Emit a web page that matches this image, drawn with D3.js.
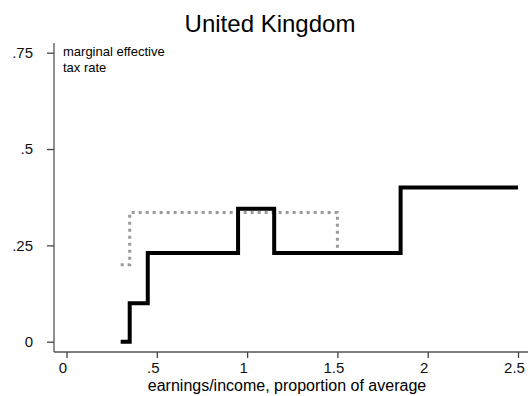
<!DOCTYPE html>
<html>
<head>
<meta charset="utf-8">
<script src="https://cdn.jsdelivr.net/npm/d3@7"></script>
<style>
  html, body { margin: 0; padding: 0; background: #fff; }
  text { font-family: "Liberation Sans", Arial, Helvetica, sans-serif; }
</style>
</head>
<body>
<svg id="chart" width="531" height="396"></svg>
<script>
// ---- data ----
const title = "United Kingdom";
const xAxisTitle = "earnings/income, proportion of average";
const yAxisNote = ["marginal effective", "tax rate"];
const xTicks = [0, 0.5, 1, 1.5, 2, 2.5];
const xTickLabels = ["0", ".5", "1", "1.5", "2", "2.5"];
const yTicks = [0, 0.25, 0.5, 0.75];
const yTickLabels = ["0", ".25", ".5", ".75"];
// solid black step series (breakpoints; value holds until next x)
const blackX = [0.3, 0.35, 0.45, 0.95, 1.15, 1.85, 2.5];
const blackY = [0, 0.1, 0.23, 0.345, 0.23, 0.40, 0.40];
// dotted grey step series
const greyX = [0.3, 0.35, 1.5, 1.85, 2.5];
const greyY = [0.2, 0.335, 0.23, 0.40, 0.40];

// ---- layout ----
const svg = d3.select("#chart");
const x = d3.scaleLinear().domain([0, 2.5]).range([66.5, 518]);
const y = d3.scaleLinear().domain([0, 0.75]).range([341.7, 52.7]);
const axisLeftX = 54, axisBottomY = 352;
const xDom = [x.invert(axisLeftX), x.invert(528)];
const yDom = [y.invert(axisBottomY), y.invert(43)];

// title
svg.append("text").attr("x", 270).attr("y", 32)
  .attr("text-anchor", "middle").attr("font-size", 24).attr("fill", "#000")
  .text(title);

// y axis
const yAxis = d3.axisLeft(y).tickValues(yTicks)
  .tickFormat((d, i) => yTickLabels[i]).tickSize(7).tickPadding(14);
const gy = svg.append("g").attr("transform", `translate(${axisLeftX},0)`).call(yAxis);
gy.select(".domain").attr("d", `M0,${y(yDom[1])}V${y(yDom[0])}`);

// x axis
const xAxis = d3.axisBottom(x).tickValues(xTicks)
  .tickFormat((d, i) => xTickLabels[i]).tickSize(6).tickPadding(4);
const gx = svg.append("g").attr("transform", `translate(0,${axisBottomY})`).call(xAxis);
gx.select(".domain").attr("d", `M${x(xDom[0])},0H${x(xDom[1])}`);
gx.selectAll(".tick text").attr("dx", -4);

[gx, gy].forEach(g => {
  g.select(".domain").attr("stroke", "#555").attr("stroke-width", 1.3);
  g.selectAll(".tick line").attr("stroke", "#444").attr("stroke-width", 1.3);
  g.selectAll(".tick text").attr("font-size", 15).attr("fill", "#111")
    .attr("font-family", '"Liberation Sans", Arial, Helvetica, sans-serif');
});

// axis title
svg.append("text").attr("x", 287).attr("y", 391)
  .attr("text-anchor", "middle").attr("font-size", 16).attr("fill", "#000")
  .text(xAxisTitle);

// y note
svg.append("text").attr("x", 63).attr("y", 56)
  .attr("font-size", 13).attr("fill", "#000")
  .selectAll("tspan").data(yAxisNote).join("tspan")
  .attr("x", 63).attr("dy", (d, i) => i === 0 ? 0 : 16).text(d => d);

// lines
const line = d3.line().x(d => x(d[0])).y(d => y(d[1])).curve(d3.curveStepAfter);
const greyPts = greyX.map((v, i) => [v, greyY[i]]);
const blackPts = blackX.map((v, i) => [v, blackY[i]]);

svg.append("path").datum(greyPts).attr("d", line)
  .attr("fill", "none").attr("stroke", "#9a9a9a").attr("stroke-width", 3)
  .attr("stroke-dasharray", "3,4").attr("stroke-linejoin", "miter");

svg.append("path").datum(blackPts).attr("d", line)
  .attr("fill", "none").attr("stroke", "#000").attr("stroke-width", 4)
  .attr("stroke-linejoin", "miter").attr("stroke-linecap", "butt");
</script>
</body>
</html>
